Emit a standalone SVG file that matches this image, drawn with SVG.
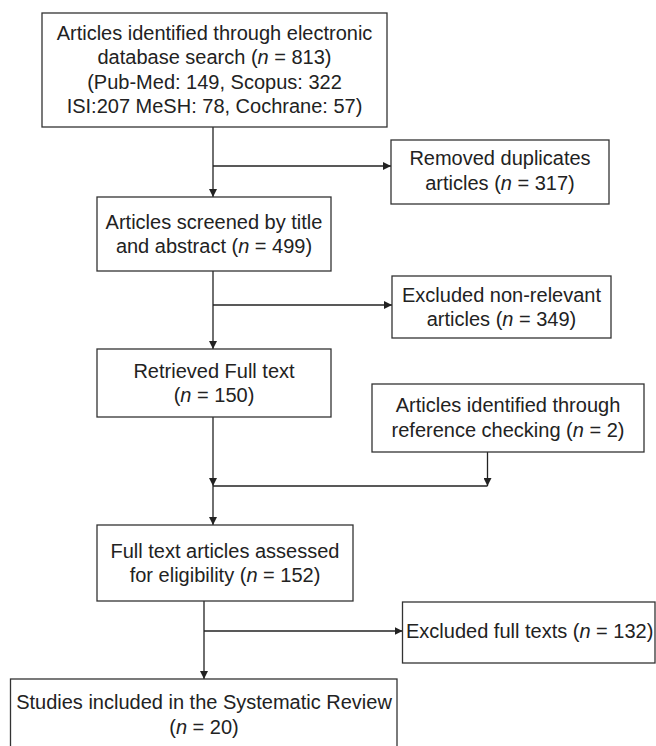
<svg xmlns="http://www.w3.org/2000/svg" width="656" height="746" viewBox="0 0 656 746">
<defs>
<style>
.box{fill:#fff;stroke:#333;stroke-width:1.3}
.t{font-family:"Liberation Sans",Arial,sans-serif;font-size:20px;fill:#222;text-anchor:middle}
.l{text-anchor:start}
.c{fill:none;stroke:#222;stroke-width:1.3}
.i{font-style:italic}
</style>
<marker id="ah" viewBox="0 0 10 10" refX="10" refY="5" markerWidth="8" markerHeight="8" markerUnits="userSpaceOnUse" orient="auto">
<path d="M0,0 L10,5 L0,10 Z" fill="#222"/>
</marker>
</defs>
<rect width="656" height="746" fill="#fff"/>
<g id="connectors">
<line class="c" x1="213" y1="127" x2="213" y2="197" marker-end="url(#ah)"/>
<line class="c" x1="213" y1="166" x2="391" y2="166" marker-end="url(#ah)"/>
<line class="c" x1="213" y1="271" x2="213" y2="349" marker-end="url(#ah)"/>
<line class="c" x1="213" y1="305" x2="392" y2="305" marker-end="url(#ah)"/>
<line class="c" x1="213" y1="417" x2="213" y2="486" marker-end="url(#ah)"/>
<line class="c" x1="487.5" y1="452" x2="487.5" y2="486" marker-end="url(#ah)"/>
<line class="c" x1="213" y1="486" x2="487.5" y2="486"/>
<line class="c" x1="213" y1="486" x2="213" y2="525" marker-end="url(#ah)"/>
<line class="c" x1="204" y1="601" x2="204" y2="679" marker-end="url(#ah)"/>
<line class="c" x1="204" y1="631" x2="402.5" y2="631" marker-end="url(#ah)"/>
</g>
<g id="n1">
<rect class="box" x="42" y="13" width="345" height="114"/>
<text class="t" x="214.5" y="40">Articles identified through electronic</text>
<text class="t" x="214.5" y="64">database search (<tspan class="i">n</tspan> = 813)</text>
<text class="t" x="214.5" y="89">(Pub-Med: 149, Scopus: 322</text>
<text class="t" x="214.5" y="113">ISI:207 MeSH: 78, Cochrane: 57)</text>
</g>
<g id="n2">
<rect class="box" x="391" y="140" width="218" height="64"/>
<text class="t" x="500" y="165">Removed duplicates</text>
<text class="t" x="500" y="190">articles (<tspan class="i">n</tspan> = 317)</text>
</g>
<g id="n3">
<rect class="box" x="97" y="197" width="234" height="74"/>
<text class="t" x="214" y="229">Articles screened by title</text>
<text class="t" x="214" y="253">and abstract (<tspan class="i">n</tspan> = 499)</text>
</g>
<g id="n4">
<rect class="box" x="392" y="276" width="219" height="62"/>
<text class="t" x="501.5" y="302">Excluded non-relevant</text>
<text class="t" x="501.5" y="326">articles (<tspan class="i">n</tspan> = 349)</text>
</g>
<g id="n5">
<rect class="box" x="97" y="349" width="234" height="68"/>
<text class="t" x="214" y="378">Retrieved Full text</text>
<text class="t" x="214" y="402">(<tspan class="i">n</tspan> = 150)</text>
</g>
<g id="n6">
<rect class="box" x="372" y="384" width="272" height="68"/>
<text class="t" x="508" y="412">Articles identified through</text>
<text class="t" x="508" y="437">reference checking (<tspan class="i">n</tspan> = 2)</text>
</g>
<g id="n7">
<rect class="box" x="97" y="525" width="256" height="76"/>
<text class="t" x="225" y="558">Full text articles assessed</text>
<text class="t" x="225" y="582">for eligibility (<tspan class="i">n</tspan> = 152)</text>
</g>
<g id="n8">
<rect class="box" x="402.5" y="602" width="252.5" height="61"/>
<text class="t l" x="406" y="638">Excluded full texts (<tspan class="i">n</tspan> = 132)</text>
</g>
<g id="n9">
<rect class="box" x="10.5" y="679" width="386.5" height="80"/>
<text class="t" x="204" y="709">Studies included in the Systematic Review</text>
<text class="t" x="204" y="734">(<tspan class="i">n</tspan> = 20)</text>
</g>
</svg>
